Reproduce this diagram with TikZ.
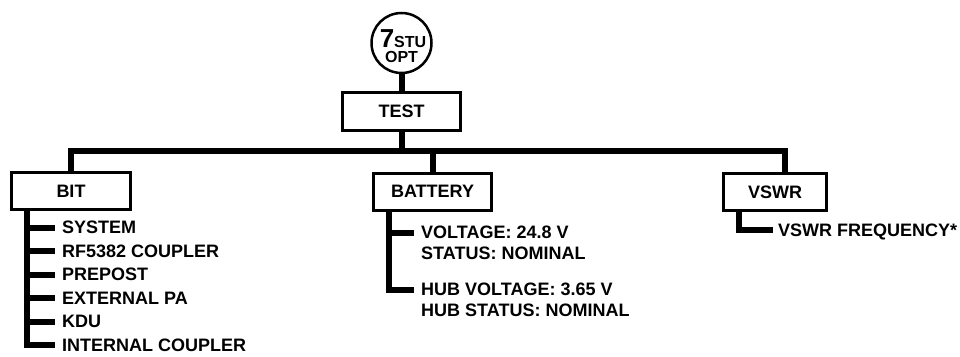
\documentclass[tikz,border=0pt]{standalone}
\usepackage{fontspec}
\setmainfont{Liberation Sans}
\begin{document}
\begin{tikzpicture}[x=1pt,y=-1pt,
  box/.style={draw, line width=3pt, minimum width=#1, minimum height=37pt, inner sep=0pt,
    font=\bfseries\fontsize{18}{20}\selectfont},
  conn/.style={line width=6pt, line join=miter},
  lbl/.style={anchor=west, inner sep=0pt, text height=12.9pt, text depth=0pt,
    font=\bfseries\fontsize{18}{20}\selectfont}]
\useasboundingbox (0,0) rectangle (960,356);

% top circle
\node[circle, draw, line width=2.5pt, minimum size=60pt, inner sep=0pt] (opt) at (401.5,43) {};
\node[anchor=base, inner sep=0pt] (seven) at (403,47)
  {\bfseries\fontsize{26}{26}\selectfont 7\fontsize{16}{16}\selectfont STU};
\node[anchor=base, inner sep=0pt] (optt) at (401.5,62.5)
  {\bfseries\fontsize{16}{16}\selectfont OPT};

% boxes
\node[box=118pt, minimum height=38pt] (test) at (401.5,111) {TEST};
\node[box=119pt] (bit) at (71,191) {BIT};
\node[box=118pt] (battery) at (432.5,191.5) {BATTERY};
\node[box=103pt] (vswr) at (775,192) {VSWR};

% bus
\coordinate (bus) at (401.5,151);
\coordinate (vswtop) at ([xshift=10pt]vswr.north);
\draw[conn] (opt.south) -- (test.north);
\draw[conn] (test.south) -- (bus);
\draw[conn] (bit.north) |- (bus) -| (vswtop);
\draw[conn] (battery.north) -- (battery.north |- bus);

% BIT list
\coordinate (bitstem) at ([xshift=17pt]bit.south west);
\node[lbl] (sys) at (62,227.5) {SYSTEM};
\node[lbl] (rf) at (62,251) {RF5382 COUPLER};
\node[lbl] (pre) at (62,274.5) {PREPOST};
\node[lbl] (ext) at (62,298) {EXTERNAL PA};
\node[lbl] (kdu) at (62,321.5) {KDU};
\node[lbl] (icp) at (62,345) {INTERNAL COUPLER};
\foreach \n in {sys,rf,pre,ext,kdu}
  \draw[conn] (bitstem |- \n.west) -- ([xshift=-7pt]\n.west);
\draw[conn] (bitstem) |- ([xshift=-7pt]icp.west);

% BATTERY list
\coordinate (batstem) at ([xshift=17pt]battery.south west);
\node[lbl] (volt) at (421,232.5) {VOLTAGE: 24.8 V};
\node[lbl] (stat) at (421,253) {STATUS: NOMINAL};
\node[lbl] (hubv) at (421,289.5) {HUB VOLTAGE: 3.65 V};
\node[lbl] (hubs) at (421,310) {HUB STATUS: NOMINAL};
\draw[conn] (batstem |- volt.west) -- ([xshift=-7pt]volt.west);
\draw[conn] (batstem) |- ([xshift=-7pt]hubv.west);

% VSWR list
\coordinate (vswstem) at ([xshift=17pt]vswr.south west);
\node[lbl] (freq) at (778,230) {VSWR FREQUENCY*};
\draw[conn] (vswstem) |- ([xshift=-5pt]freq.west);
\end{tikzpicture}
\end{document}
